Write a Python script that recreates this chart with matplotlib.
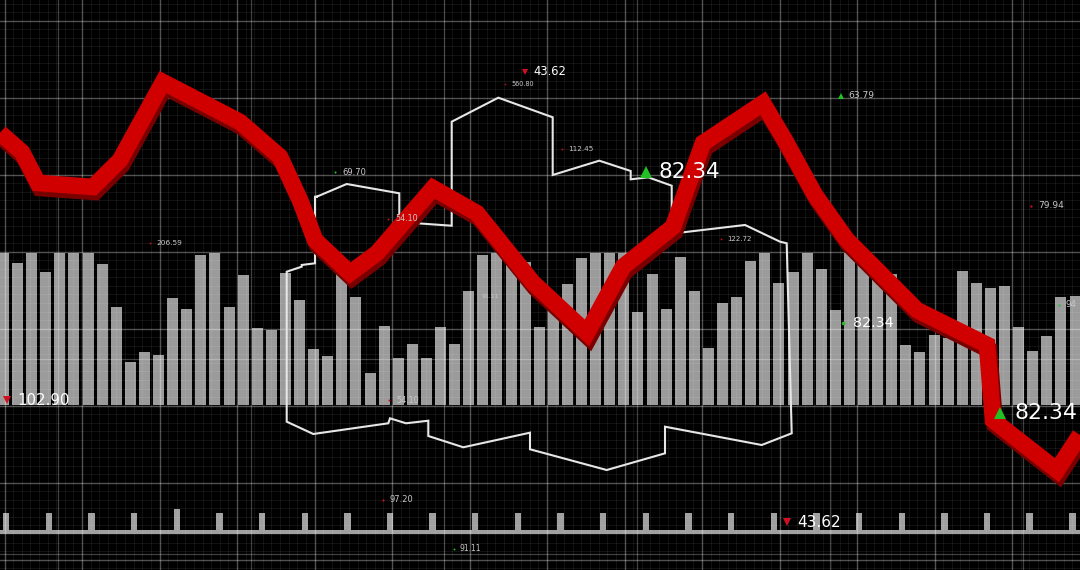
import matplotlib
matplotlib.use("Agg")
import matplotlib.pyplot as plt
from matplotlib.ticker import MultipleLocator, FixedLocator
import matplotlib.transforms as mtransforms

# ---------------- data ----------------
BAR_VALUES = [99.8, 93.2, 100, 87.7, 100, 100, 100, 92.8, 64.7, 28.1,
              35.1, 32.7, 70.2, 63.0, 98.7, 100, 64.3, 85.5, 50.5, 49.3,
              87.0, 69.1, 37.0, 32.2, 86.6, 70.9, 20.9, 52.0, 30.6, 40.1,
              30.6, 51.5, 40.0, 74.8, 98.7, 100, 100, 94.0, 51.1, 65.8,
              79.8, 96.5, 100, 100, 100, 61.4, 86.1, 63.0, 97.6, 74.8,
              37.3, 66.9, 70.9, 94.9, 100, 80.5, 87.7, 99.8, 89.7, 62.5,
              100, 92.8, 86.8, 86.0, 39.3, 35.1, 46.3, 44.1, 88.2, 80.1,
              76.8, 78.3, 51.1, 35.5, 45.6, 70.9, 71.7]

LINE_X = [0, 2.2, 3.8, 9.3, 12.0, 16.3, 24.0, 28.0, 30.0, 31.5, 35.0, 37.7,
          43.3, 47.7, 53.3, 58.7, 62.3, 67.3, 70.3, 76.3, 78.5, 81.5, 84.7,
          91.7, 98.7, 99.3, 105.7, 108.0]
LINE_Y = [76.7, 73.3, 67.9, 67.2, 71.9, 85.6, 78.6, 72.5, 64.9, 57.9, 52.1,
          55.6, 67.0, 62.6, 50.4, 41.6, 53.2, 60.2, 74.9, 81.9, 75.4, 65.8,
          57.9, 45.6, 39.5, 26.3, 17.5, 23.7]

OUTLINE_X = [31.67, 34.67, 39.93, 39.93, 45.17, 45.17, 49.83, 55.27, 55.27,
             59.93, 63.07, 63.07, 64.83, 67.17, 67.17, 68.0, 74.5, 78.0,
             78.67, 79.17, 76.17, 66.5, 66.5, 60.67, 53.0, 53.0, 46.33,
             42.83, 42.83, 40.6, 39.0, 38.83, 31.33, 28.67, 28.67, 29.17,
             30.17, 30.17, 31.5, 31.5, 31.67]
OUTLINE_Y = [65.49, 67.72, 66.09, 61.05, 60.40, 78.65, 82.86, 79.42, 69.30,
             71.81, 70.0, 68.54, 68.89, 67.42, 63.16, 59.18, 60.53, 57.60,
             57.32, 23.98, 21.93, 25.14, 20.47, 17.54, 21.18, 24.09, 21.53,
             23.51, 26.19, 25.74, 26.61, 25.74, 23.86, 26.02, 52.33, 52.63,
             53.21, 53.51, 53.81, 65.49, 65.49]

TICK_HEIGHTS = [17, 17, 17, 17, 21, 17, 17, 17, 17, 17, 17, 17, 17,
                17, 17, 17, 17, 17, 17, 17, 17, 17, 17, 17, 17, 17]

LABEL_TEXT = ["43.62", "560.80", "63.79", "112.45", "82.34", "69.70", "79.94",
              "206.59", "54.10", "122.72", "91.11", "82.34", "102.90", "54.10",
              "82.34", "97.20", "43.62", "91.11", "94"]
LABEL_X = [53.3, 51.1, 84.8, 56.8, 65.9, 34.2, 103.8, 15.6, 39.5, 72.7, 48.2,
           85.3, 1.7, 39.6, 101.4, 39.0, 79.7, 46.0, 106.6]
LABEL_Y = [87.4, 85.3, 83.2, 73.9, 69.8, 69.8, 63.9, 57.4, 61.6, 58.1, 47.9,
           43.3, 29.8, 29.8, 27.5, 12.3, 8.4, 3.7, 46.5]
LABEL_SIZE = [8.3, 4.7, 6.6, 5.2, 15.6, 6.0, 6.5, 5.3, 5.8, 5.0, 4.5, 10.3,
              10.8, 5.8, 15.8, 6.0, 11.0, 5.5, 6.3]
LABEL_MARK = ["v", ".", "^", ".", "^", ".", ".", ".", ".", ".", "", ".", "v",
              ".", "^", ".", "v", ".", "."]
LABEL_DIR = ["dn", "dn", "up", "dn", "up", "up", "dn", "dn", "dn", "dn", "",
             "up", "dn", "dn", "up", "dn", "dn", "up", "up"]

# ---------------- figure ----------------
W, H = 1080, 570
fig = plt.figure(figsize=(W / 100, H / 100), dpi=100, facecolor="black")


def fy(py):
    return (H - py) / H


# bars
ax_bars = fig.add_axes([0, fy(405), 1, 152 / H], zorder=1)
ax_bars.set_facecolor("none")
ax_bars.set_xlim(-0.248, 76.35)
ax_bars.set_ylim(0, 100)
ax_bars.bar(range(len(BAR_VALUES)), BAR_VALUES, width=0.78, color="#9b9b9b",
            linewidth=0)
ax_bars.axis("off")

# bottom tick strip
ax_strip = fig.add_axes([0, fy(536), 1, 31 / H], zorder=1)
ax_strip.set_facecolor("none")
ax_strip.set_xlim(-0.145, 25.18)
ax_strip.set_ylim(0, 31)
ax_strip.axhspan(2, 6, color="#a0a0a0", lw=0)
ax_strip.bar(range(len(TICK_HEIGHTS)), TICK_HEIGHTS, bottom=6, width=0.15,
             color="#a0a0a0", linewidth=0)
ax_strip.axis("off")


def clean(ax):
    ax.set_facecolor("none")
    ax.set_xlim(0, W)
    ax.set_ylim(H, 0)
    ax.tick_params(which="both", length=0, labelbottom=False, labelleft=False)
    for s in ax.spines.values():
        s.set_visible(False)


# primary grid (major + fine minor)
g1 = fig.add_axes([0, 0, 1, 1], zorder=2)
clean(g1)
g1.xaxis.set_major_locator(MultipleLocator(77.5, offset=4.5))
g1.yaxis.set_major_locator(MultipleLocator(77.0, offset=20.7))
g1.xaxis.set_minor_locator(MultipleLocator(77.5 / 9, offset=4.5))
g1.yaxis.set_minor_locator(MultipleLocator(77.0 / 9, offset=20.7))
g1.grid(True, which="minor", color="white", alpha=0.085, lw=0.6)
g1.grid(True, which="major", color="white", alpha=0.32, lw=1.0)

# secondary grid
g2 = fig.add_axes([0, 0, 1, 1], zorder=2)
clean(g2)
g2.xaxis.set_major_locator(MultipleLocator(193.0, offset=58))
g2.yaxis.set_major_locator(FixedLocator([359, 554]))
g2.grid(True, color="white", alpha=0.25, lw=0.9)

# main layer
ax = fig.add_axes([0, 0, 1, 1], zorder=3)
ax.set_facecolor("none")
ax.set_xlim(0, 108)
ax.set_ylim(0, 100)
ax.axis("off")

ax.plot(OUTLINE_X, OUTLINE_Y, color="#e6e6e6", lw=1.5, solid_joinstyle="miter")

shadow = mtransforms.offset_copy(ax.transData, fig=fig, x=2, y=-5, units="dots")
ax.plot(LINE_X, LINE_Y, color="#7a0000", lw=12, solid_joinstyle="miter",
        solid_capstyle="butt", transform=shadow)
ax.plot(LINE_X, LINE_Y, color="#d00000", lw=12, solid_joinstyle="miter",
        solid_capstyle="butt")

for t, x, y, s, m, d in zip(LABEL_TEXT, LABEL_X, LABEL_Y, LABEL_SIZE,
                            LABEL_MARK, LABEL_DIR):
    big = s >= 8
    tcol = "white" if big else "#c8c8c8"
    mcol = "#22c022" if d == "up" else "#d01020"
    if m:
        ms = s * 0.55 if m in "^v" else s * 0.5
        gap = s * 0.07 + 0.25
        ax.plot(x - gap, y, marker=m, color=mcol, ms=ms, mew=0, ls="none")
    ax.text(x, y, t, color=tcol, fontsize=s, ha="left", va="center",
            family="DejaVu Sans")

fig.savefig("out.png", dpi=100, facecolor="black")
